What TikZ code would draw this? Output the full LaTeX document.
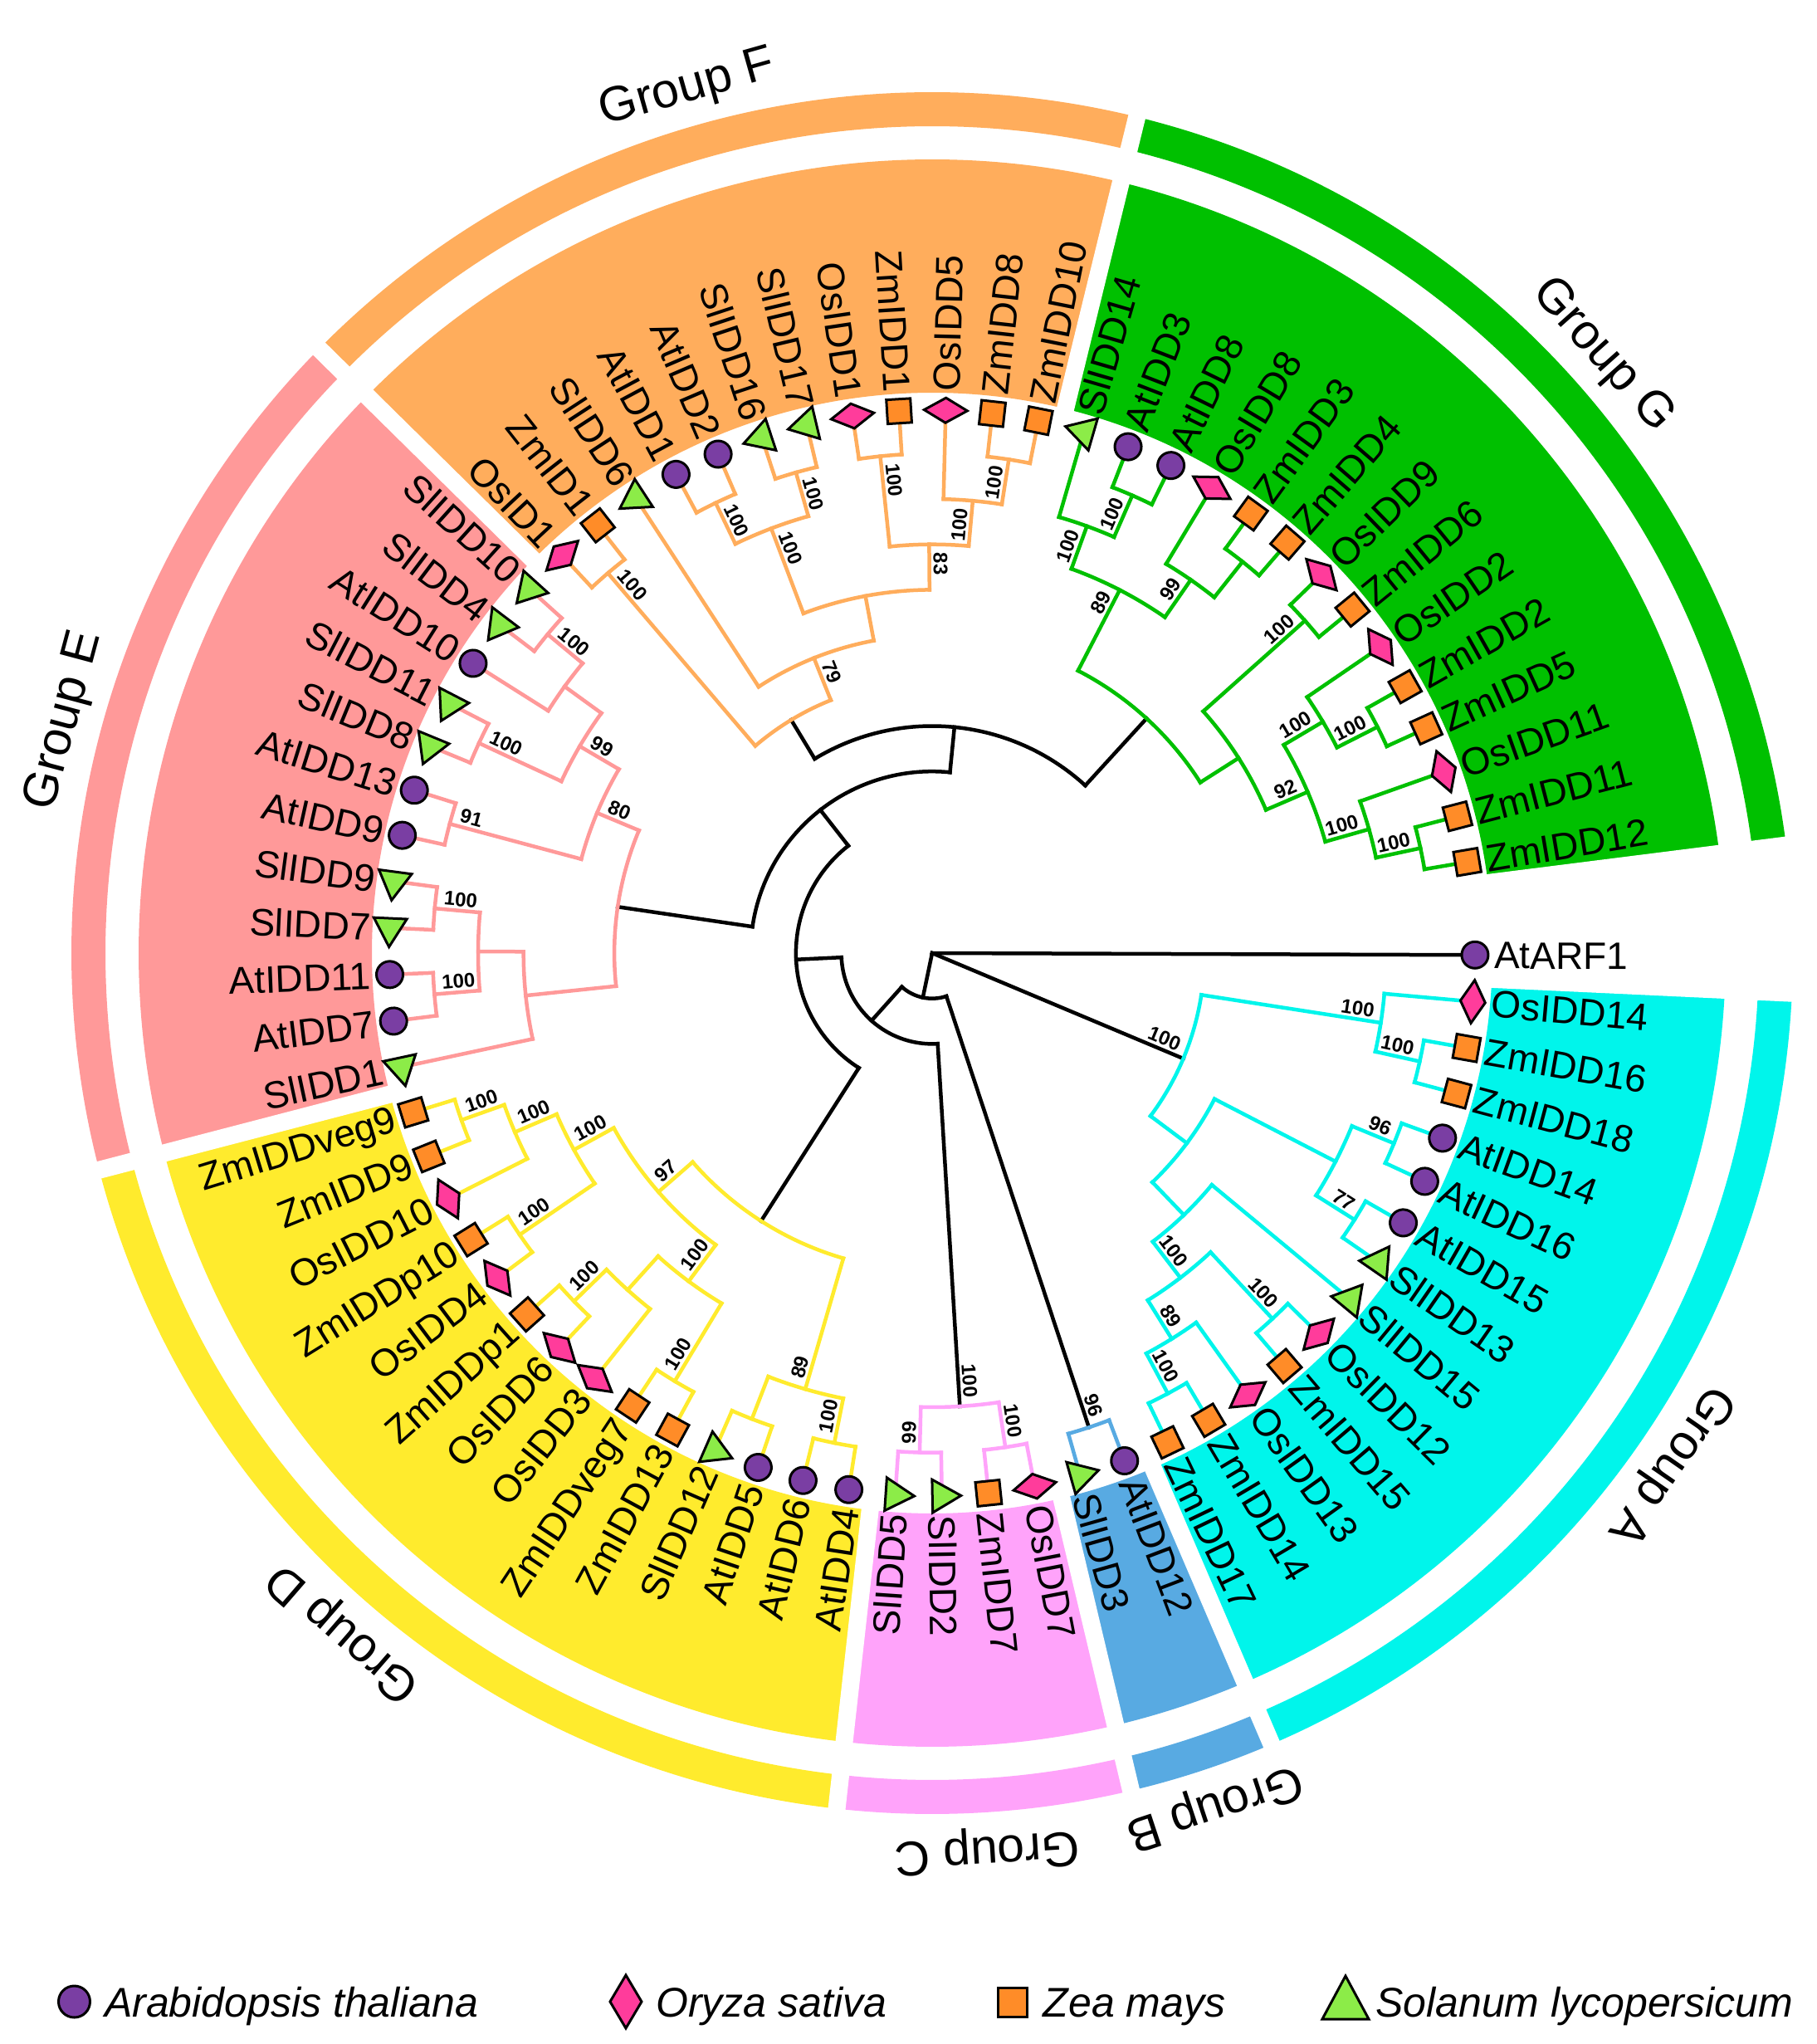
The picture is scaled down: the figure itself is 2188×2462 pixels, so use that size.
\documentclass[tikz,border=0pt]{standalone}
\usepackage{fontspec}
\setmainfont{Liberation Sans}
\definecolor{cG}{RGB}{0,192,0}
\definecolor{cF}{RGB}{255,173,92}
\definecolor{cE}{RGB}{255,153,153}
\definecolor{cD}{RGB}{255,235,45}
\definecolor{cC}{RGB}{255,163,250}
\definecolor{cB}{RGB}{88,170,226}
\definecolor{cA}{RGB}{0,245,235}
\definecolor{cAt}{RGB}{122,62,163}
\definecolor{cOs}{RGB}{255,60,155}
\definecolor{cZm}{RGB}{255,140,40}
\definecolor{cSl}{RGB}{140,236,72}
\pgfmathdeclarefunction{sa}{1}{\begingroup\pgfmathparse{#1*4.9315068-0.2}\pgfmathsmuggle\pgfmathresult\endgroup}
\pgfmathdeclarefunction{rh}{1}{\begingroup\pgfmathparse{54.7*(12-#1)}\pgfmathsmuggle\pgfmathresult\endgroup}
\tikzset{
 br/.style={line width=4.5pt, line cap=rect},
 symline/.style={draw=black, line width=3pt, line join=miter},
 leaflab/.style={font=\fontsize{46}{50}\selectfont, inner sep=0pt, text height=33pt, text depth=0pt},
 bsl/.style={font=\bfseries\fontsize{24}{26}\selectfont, inner sep=5pt, text height=17pt, text depth=0pt},
 grplab/.style={font=\fontsize{59}{64}\selectfont, inner sep=0pt, text height=42pt, text depth=0pt},
 leglab/.style={font=\itshape\fontsize{50}{55}\selectfont, inner sep=0pt, text height=36pt, text depth=0pt, anchor=west},
}
% internal node: color, height, slot child1, height child1, slot child2, height child2
\newcommand\trnode[6]{%
 \pgfmathsetmacro\tnR{rh(#2)}%
 \pgfmathsetmacro\tnA{sa(#3)}%
 \pgfmathsetmacro\tnB{sa(#5)}%
 \pgfmathsetmacro\tnRa{rh(#4)}%
 \pgfmathsetmacro\tnRb{rh(#6)}%
 \draw[br,#1] (\tnA:\tnR) arc[start angle=\tnA, end angle=\tnB, radius=\tnR];
 \draw[br,#1] (\tnA:\tnR) -- (\tnA:\tnRa);
 \draw[br,#1] (\tnB:\tnR) -- (\tnB:\tnRb);
}
% bootstrap label: slot, height, text
\newcommand\bsLabel[3]{%
 \pgfmathsetmacro\bsA{sa(#1)}%
 \pgfmathsetmacro\bsR{rh(#2)-5}%
 \pgfmathsetmacro\bsB{\bsA+180}%
 \pgfmathtruncatemacro\bsS{cos(\bsA)>0}%
 \ifnum\bsS=1
  \node[bsl, rotate=\bsA, anchor=south east] at (\bsA:\bsR) {#3};
 \else
  \node[bsl, rotate=\bsB, anchor=south west] at (\bsA:\bsR) {#3};
 \fi}
\newcommand\shpc{\filldraw[symline, fill=cAt] (0,0) circle[radius=16];}
\newcommand\shps{\filldraw[symline, fill=cZm] (-14.5,-14.5) rectangle (14.5,14.5);}
\newcommand\shpd{\filldraw[symline, fill=cOs] (0,26) -- (15,0) -- (0,-26) -- (-15,0) -- cycle;}
\newcommand\shpt{\filldraw[symline, fill=cSl] (90:23) -- (210:23) -- (330:23) -- cycle;}
% leaf: slot, type, label
\newcommand\leafsym[3]{%
 \pgfmathsetmacro\lfA{sa(#1)}%
 \pgfmathsetmacro\lfB{\lfA+180}%
 \pgfmathtruncatemacro\lfS{cos(\lfA)>0}%
 \coordinate (L#1) at (\lfA:654);
 \begin{scope}[shift={(L#1)}, rotate=\lfA]\csname shp#2\endcsname\end{scope}
 \ifnum\lfS=1
  \node[leaflab, rotate=\lfA, anchor=west] (T#1) at (\lfA:677) {#3};
 \else
  \node[leaflab, rotate=\lfB, anchor=east] (T#1) at (\lfA:677) {#3};
 \fi}
% sector: color, lo slot, hi slot, rin, rout
\newcommand\grpsector[5]{%
 \pgfmathsetmacro\gsA{sa(#2)}\pgfmathsetmacro\gsB{sa(#3)}%
 \fill[#1] (\gsA:#4) arc[start angle=\gsA, end angle=\gsB, radius=#4] -- (\gsB:#5) arc[start angle=\gsB, end angle=\gsA, radius=#5] -- cycle;}
\newcommand\grplabel[2]{%
 \pgfmathsetmacro\glA{sa(#1)}\pgfmathsetmacro\glB{\glA-90}%
 \node[grplab, rotate=\glB] (G#1) at (\glA:1088) {#2};}
\begin{document}
\begin{tikzpicture}[x=1pt,y=1pt]
\useasboundingbox (-1123,-1314) rectangle (1065,1148);
\fill[white] (-1123,-1314) rectangle (1065,1148);
% label backgrounds
\grpsector{cG}{1.5}{15.5}{675}{956}
\grpsector{cF}{15.5}{27.5}{675}{956}
\grpsector{cE}{27.5}{39.5}{675}{956}
\grpsector{cD}{39.5}{53.5}{675}{956}
\grpsector{cC}{53.5}{57.5}{675}{956}
\grpsector{cB}{57.5}{59.5}{675}{956}
\grpsector{cA}{59.5}{72.5}{675}{956}
% outer bands
\grpsector{cG}{1.5}{15.5}{996}{1037}
\grpsector{cF}{15.5}{27.5}{996}{1037}
\grpsector{cE}{27.5}{39.5}{996}{1037}
\grpsector{cD}{39.5}{53.5}{996}{1037}
\grpsector{cC}{53.5}{57.5}{996}{1037}
\grpsector{cB}{57.5}{59.5}{996}{1037}
\grpsector{cA}{59.5}{72.5}{996}{1037}
\foreach \s in {1.5,15.5,27.5,39.5,53.5,57.5,59.5,72.5}{%
 \pgfmathsetmacro\spA{sa(\s)}
 \draw[white, line width=21pt] (\spA:662) -- (\spA:1070);}
% backbone (black)
\pgfmathsetmacro\rtA{sa(0)}
\pgfmathsetmacro\rtB{sa(52.39794921875)}
\pgfmathsetmacro\rtC{sa(68.421875)}
\coordinate (root) at (0,0);
\draw[br] (root) -- (\rtA:656.4);
\draw[br] (root) -- (\rtB:54.7);
\draw[br] (root) -- (\rtC:328.2);
\trnode{black}{11}{46.2958984375}{10}{58.5}{1}
\trnode{black}{10}{37.091796875}{9}{55.5}{2}
\trnode{black}{9}{25.99609375}{8}{48.1875}{5}
\trnode{black}{8}{17.1484375}{7}{34.84375}{5}
\trnode{black}{7}{9.6875}{5}{24.609375}{6}
% Group G
\trnode{cG}{5}{6.625}{4}{12.75}{3}
\trnode{cG}{4}{4.75}{3}{8.5}{1}
\trnode{cG}{3}{3.25}{2}{6.25}{2}
\trnode{cG}{2}{2.5}{1}{4}{0}
\trnode{cG}{1}{2}{0}{3}{0}
\trnode{cG}{2}{5.5}{1}{7}{0}
\trnode{cG}{1}{5}{0}{6}{0}
\trnode{cG}{1}{8}{0}{9}{0}
\trnode{cG}{3}{11.25}{2}{14.25}{2}
\trnode{cG}{2}{10.5}{1}{12}{0}
\trnode{cG}{1}{10}{0}{11}{0}
\trnode{cG}{2}{13.5}{1}{15}{0}
\trnode{cG}{1}{13}{0}{14}{0}
% Group F
\trnode{cF}{6}{22.71875}{5}{26.5}{1}
\trnode{cF}{1}{26}{0}{27}{0}
\trnode{cF}{5}{20.4375}{4}{25}{0}
\trnode{cF}{4}{18.375}{3}{22.5}{2}
\trnode{cF}{3}{17.25}{2}{19.5}{1}
\trnode{cF}{2}{16.5}{1}{18}{0}
\trnode{cF}{1}{16}{0}{17}{0}
\trnode{cF}{1}{19}{0}{20}{0}
\trnode{cF}{2}{21.5}{1}{23.5}{1}
\trnode{cF}{1}{21}{0}{22}{0}
\trnode{cF}{1}{23}{0}{24}{0}
% Group E
\trnode{cE}{5}{31.9375}{4}{37.75}{3}
\trnode{cE}{4}{30.375}{3}{33.5}{1}
\trnode{cE}{3}{29.25}{2}{31.5}{1}
\trnode{cE}{2}{28.5}{1}{30}{0}
\trnode{cE}{1}{28}{0}{29}{0}
\trnode{cE}{1}{31}{0}{32}{0}
\trnode{cE}{1}{33}{0}{34}{0}
\trnode{cE}{3}{36.5}{2}{39}{0}
\trnode{cE}{2}{35.5}{1}{37.5}{1}
\trnode{cE}{1}{35}{0}{36}{0}
\trnode{cE}{1}{37}{0}{38}{0}
% Group D
\trnode{cD}{5}{44.875}{4}{51.5}{2}
\trnode{cD}{4}{42.375}{3}{47.375}{3}
\trnode{cD}{3}{41.25}{2}{43.5}{1}
\trnode{cD}{2}{40.5}{1}{42}{0}
\trnode{cD}{1}{40}{0}{41}{0}
\trnode{cD}{1}{43}{0}{44}{0}
\trnode{cD}{3}{46.25}{2}{48.5}{1}
\trnode{cD}{2}{45.5}{1}{47}{0}
\trnode{cD}{1}{45}{0}{46}{0}
\trnode{cD}{1}{48}{0}{49}{0}
\trnode{cD}{2}{50.5}{1}{52.5}{1}
\trnode{cD}{1}{50}{0}{51}{0}
\trnode{cD}{1}{52}{0}{53}{0}
% Group C
\trnode{cC}{2}{54.5}{1}{56.5}{1}
\trnode{cC}{1}{54}{0}{55}{0}
\trnode{cC}{1}{56}{0}{57}{0}
% Group B
\trnode{cB}{1}{58}{0}{59}{0}
% Group A
\trnode{cA}{6}{65.59375}{5}{71.25}{2}
\trnode{cA}{5}{63.6875}{4}{67.5}{2}
\trnode{cA}{4}{62.375}{3}{65}{0}
\trnode{cA}{3}{61.25}{2}{63.5}{1}
\trnode{cA}{2}{60.5}{1}{62}{0}
\trnode{cA}{1}{60}{0}{61}{0}
\trnode{cA}{1}{63}{0}{64}{0}
\trnode{cA}{2}{66.5}{1}{68.5}{1}
\trnode{cA}{1}{66}{0}{67}{0}
\trnode{cA}{1}{68}{0}{69}{0}
\trnode{cA}{2}{70.5}{1}{72}{0}
\trnode{cA}{1}{70}{0}{71}{0}
% leaves
\leafsym{0}{c}{AtARF1}
\leafsym{2}{s}{ZmIDD12}
\leafsym{3}{s}{ZmIDD11}
\leafsym{4}{d}{OsIDD11}
\leafsym{5}{s}{ZmIDD5}
\leafsym{6}{s}{ZmIDD2}
\leafsym{7}{d}{OsIDD2}
\leafsym{8}{s}{ZmIDD6}
\leafsym{9}{d}{OsIDD9}
\leafsym{10}{s}{ZmIDD4}
\leafsym{11}{s}{ZmIDD3}
\leafsym{12}{d}{OsIDD8}
\leafsym{13}{c}{AtIDD8}
\leafsym{14}{c}{AtIDD3}
\leafsym{15}{t}{SlIDD14}
\leafsym{16}{s}{ZmIDD10}
\leafsym{17}{s}{ZmIDD8}
\leafsym{18}{d}{OsIDD5}
\leafsym{19}{s}{ZmIDD1}
\leafsym{20}{d}{OsIDD1}
\leafsym{21}{t}{SlIDD17}
\leafsym{22}{t}{SlIDD16}
\leafsym{23}{c}{AtIDD2}
\leafsym{24}{c}{AtIDD1}
\leafsym{25}{t}{SlIDD6}
\leafsym{26}{s}{ZmID1}
\leafsym{27}{d}{OsID1}
\leafsym{28}{t}{SlIDD10}
\leafsym{29}{t}{SlIDD4}
\leafsym{30}{c}{AtIDD10}
\leafsym{31}{t}{SlIDD11}
\leafsym{32}{t}{SlIDD8}
\leafsym{33}{c}{AtIDD13}
\leafsym{34}{c}{AtIDD9}
\leafsym{35}{t}{SlIDD9}
\leafsym{36}{t}{SlIDD7}
\leafsym{37}{c}{AtIDD11}
\leafsym{38}{c}{AtIDD7}
\leafsym{39}{t}{SlIDD1}
\leafsym{40}{s}{ZmIDDveg9}
\leafsym{41}{s}{ZmIDD9}
\leafsym{42}{d}{OsIDD10}
\leafsym{43}{s}{ZmIDDp10}
\leafsym{44}{d}{OsIDD4}
\leafsym{45}{s}{ZmIDDp1}
\leafsym{46}{d}{OsIDD6}
\leafsym{47}{d}{OsIDD3}
\leafsym{48}{s}{ZmIDDveg7}
\leafsym{49}{s}{ZmIDD13}
\leafsym{50}{t}{SlIDD12}
\leafsym{51}{c}{AtIDD5}
\leafsym{52}{c}{AtIDD6}
\leafsym{53}{c}{AtIDD4}
\leafsym{54}{t}{SlIDD5}
\leafsym{55}{t}{SlIDD2}
\leafsym{56}{s}{ZmIDD7}
\leafsym{57}{d}{OsIDD7}
\leafsym{58}{t}{SlIDD3}
\leafsym{59}{c}{AtIDD12}
\leafsym{60}{s}{ZmIDD17}
\leafsym{61}{s}{ZmIDD14}
\leafsym{62}{d}{OsIDD13}
\leafsym{63}{s}{ZmIDD15}
\leafsym{64}{d}{OsIDD12}
\leafsym{65}{t}{SlIDD15}
\leafsym{66}{t}{SlIDD13}
\leafsym{67}{c}{AtIDD15}
\leafsym{68}{c}{AtIDD16}
\leafsym{69}{c}{AtIDD14}
\leafsym{70}{s}{ZmIDD18}
\leafsym{71}{s}{ZmIDD16}
\leafsym{72}{d}{OsIDD14}
% bootstrap values
\bsLabel{13.5}{1}{100}
\bsLabel{14.25}{2}{100}
\bsLabel{12.75}{3}{89}
\bsLabel{11.25}{2}{99}
\bsLabel{8.5}{1}{100}
\bsLabel{5.5}{1}{100}
\bsLabel{6.25}{2}{100}
\bsLabel{4.75}{3}{92}
\bsLabel{2.5}{1}{100}
\bsLabel{3.25}{2}{100}
\bsLabel{16.5}{1}{100}
\bsLabel{17.25}{2}{100}
\bsLabel{18.375}{3}{83}
\bsLabel{19.5}{1}{100}
\bsLabel{21.5}{1}{100}
\bsLabel{23.5}{1}{100}
\bsLabel{22.5}{2}{100}
\bsLabel{22.71875}{5}{79}
\bsLabel{26.5}{1}{100}
\bsLabel{28.5}{1}{100}
\bsLabel{31.5}{1}{100}
\bsLabel{30.375}{3}{99}
\bsLabel{33.5}{1}{91}
\bsLabel{31.9375}{4}{80}
\bsLabel{35.5}{1}{100}
\bsLabel{37.5}{1}{100}
\bsLabel{40.5}{1}{100}
\bsLabel{41.25}{2}{100}
\bsLabel{42.375}{3}{100}
\bsLabel{43.5}{1}{100}
\bsLabel{44.875}{4}{97}
\bsLabel{45.5}{1}{100}
\bsLabel{47.375}{3}{100}
\bsLabel{48.5}{1}{100}
\bsLabel{51.5}{2}{89}
\bsLabel{52.5}{1}{100}
\bsLabel{54.5}{1}{99}
\bsLabel{56.5}{1}{100}
\bsLabel{55.5}{2}{100}
\bsLabel{58.5}{1}{96}
\bsLabel{60.5}{1}{100}
\bsLabel{61.25}{2}{89}
\bsLabel{63.5}{1}{100}
\bsLabel{62.375}{3}{100}
\bsLabel{66.5}{1}{77}
\bsLabel{68.5}{1}{96}
\bsLabel{70.5}{1}{100}
\bsLabel{71.25}{2}{100}
\bsLabel{68.421875}{6}{100}
% group labels
\grplabel{8.5}{Group G}
\grplabel{21.5}{Group F}
\grplabel{33.5}{Group E}
\grplabel{46.5}{Group D}
\grplabel{55.5}{Group C}
\grplabel{58.5}{Group B}
\grplabel{66}{Group A}
% legend
\filldraw[symline, fill=cAt] (-1033.5,-1263) circle[radius=19];
\node[leglab] (lg1) at (-997,-1263) {Arabidopsis thaliana};
\filldraw[symline, fill=cOs] (-369,-1231) -- (-350,-1263) -- (-369,-1295) -- (-388,-1263) -- cycle;
\node[leglab] (lg2) at (-333,-1263) {Oryza sativa};
\filldraw[symline, fill=cZm] (79,-1281) rectangle (114,-1246);
\node[leglab] (lg3) at (133.6,-1263) {Zea mays};
\filldraw[symline, fill=cSl] (498,-1232) -- (526,-1284) -- (470,-1284) -- cycle;
\node[leglab] (lg4) at (534,-1263) {Solanum lycopersicum};
\end{tikzpicture}
\end{document}
